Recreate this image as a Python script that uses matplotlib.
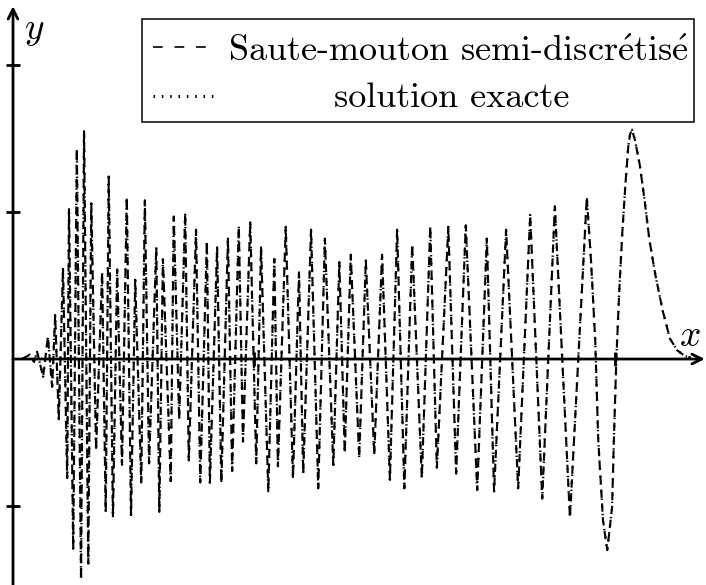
import matplotlib.pyplot as plt
from matplotlib.lines import Line2D
from matplotlib.patches import Rectangle

plt.rcParams['mathtext.fontset'] = 'cm'
plt.rcParams['lines.scale_dashes'] = False

# extrema of the wave
x_pts = [0.15, 0.28, 0.35, 0.40, 0.50, 0.58, 0.65, 0.70, 0.76, 0.83,
         0.90, 0.93, 1.00, 1.06, 1.13, 1.18, 1.25, 1.30, 1.38, 1.48,
         1.54, 1.59, 1.66, 1.73, 1.81, 1.89, 1.96, 2.03, 2.13, 2.19,
         2.26, 2.38, 2.43, 2.49, 2.62, 2.67, 2.76, 2.86, 2.92, 3.04,
         3.11, 3.22, 3.27, 3.39, 3.46, 3.57, 3.64, 3.75, 3.82, 3.94,
         4.04, 4.12, 4.24, 4.34, 4.40, 4.53, 4.65, 4.75, 4.82, 4.95,
         5.07, 5.18, 5.32, 5.42, 5.51, 5.61, 5.75, 5.86, 6.00, 6.13,
         6.26, 6.38, 6.50, 6.63, 6.79, 6.93, 7.04, 7.23, 7.36, 7.52,
         7.71, 7.87, 7.99, 8.19, 8.39, 8.59, 8.79, 9.00, 9.25, 9.53,
         9.60, 9.67, 9.72, 9.80, 9.87, 9.95, 9.98, 10.02, 10.07, 10.12,
         10.17, 10.22, 10.25, 10.28, 10.33, 10.41, 10.49, 10.57, 10.67,
         10.79, 10.91, 11.03, 11.16, 11.26]
y_pts = [0.00, 0.03, -0.02, 0.05, -0.12, 0.15, -0.19, 0.30, -0.41, 0.62,
         -0.81, 1.02, -1.29, 1.43, -1.50, 1.55, -1.39, 1.06, -0.62, 0.59,
         -1.04, 1.24, -1.07, 0.61, -0.72, 1.10, -1.06, 0.54, -0.84, 1.08,
         -0.71, 0.76, -1.04, 0.68, -0.83, 0.97, -0.41, 0.99, -0.69, 0.88,
         -0.84, 0.80, -0.84, 0.76, -0.84, 0.82, -0.76, 0.90, -0.56, 0.93,
         -0.71, 0.76, -0.90, 0.68, -0.73, 0.90, -0.81, 0.59, -0.78, 0.88,
         -0.88, 0.82, -0.72, 0.66, -0.64, 0.71, -0.67, 0.67, -0.65, 0.71,
         -0.82, 0.88, -0.88, 0.78, -0.81, 0.90, -0.74, 0.90, -0.78, 0.91,
         -0.89, 0.82, -0.90, 0.88, -0.88, 0.98, -0.95, 1.04, -1.08, 1.10,
         0.67, 0.13, -0.55, -1.10, -1.30, -1.01, -0.55, -0.01, 0.47, 0.86,
         1.18, 1.45, 1.53, 1.56, 1.49, 1.32, 1.08, 0.81, 0.57,
         0.33, 0.14, 0.06, 0.02, 0.01]

y_ticks = [-1, 1, 2]
x_ticks = [4, 10]
legend_labels = [r"Saute-mouton semi-discr$\acute{\rm e}$tis$\acute{\rm e}$",
                 "solution exacte"]

fig = plt.figure(figsize=(7.06, 5.85), dpi=100)
ax = fig.add_axes([0, 0, 1, 1])
ax.set_xlim(-0.216, 11.51)
ax.set_ylim(-1.537, 2.442)
ax.axis('off')

# semi-discretised (dashed) and exact (dotted) solutions
ax.plot(x_pts, y_pts, color='black', lw=1.5, dashes=(6.0, 4.0))
ax.plot(x_pts, y_pts, color='black', lw=1.7, dashes=(1.0, 4.5))

# axes with arrows
arrow = dict(arrowstyle='->,head_length=0.7,head_width=0.35', lw=2.0, color='black',
             shrinkA=0, shrinkB=0)
ax.annotate('', xy=(0, 2.40), xytext=(0, -1.537), arrowprops=arrow)
ax.annotate('', xy=(11.49, 0), xytext=(0, 0), arrowprops=arrow)

for yt in y_ticks:
    ax.plot([-0.12, 0.12], [yt, yt], color='black', lw=2.0, solid_capstyle='butt')
for xt in x_ticks:
    ax.plot([xt, xt], [-0.05, 0.05], color='black', lw=2.0, solid_capstyle='butt')

ax.text(0.36, 2.24, '$y$', fontsize=27, ha='center', va='center')
ax.text(11.25, 0.16, '$x$', fontsize=27, ha='center', va='center')

# legend box
W, H = 706, 585
fig.add_artist(Rectangle((142 / W, 1 - 122 / H), 552 / W, 103 / H,
                         transform=fig.transFigure, fill=False, lw=1.1, color='black'))
fig.add_artist(Line2D([153 / W, 207 / W], [1 - 47 / H, 1 - 47 / H],
                      transform=fig.transFigure, color='black', lw=1.2, dashes=(7, 8.5)))
fig.add_artist(Line2D([153 / W, 214 / W], [1 - 96 / H, 1 - 96 / H],
                      transform=fig.transFigure, color='black', lw=2.2, dashes=(1.1, 4.9)))
fig.text(458 / W, 1 - 61 / H, legend_labels[0], fontsize=26, ha='center', va='baseline',
         family='cmr10')
fig.text(452 / W, 1 - 107 / H, legend_labels[1], fontsize=26, ha='center', va='baseline',
         family='cmr10')

fig.savefig('out.png', dpi=100)
